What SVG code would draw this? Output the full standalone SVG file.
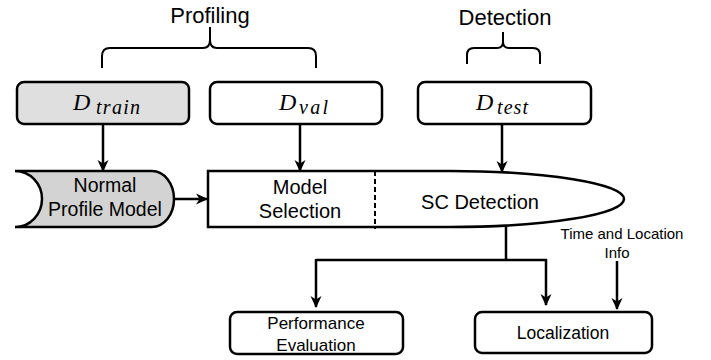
<svg xmlns="http://www.w3.org/2000/svg" width="711" height="360" viewBox="0 0 711 360">
<style>
  .box{fill:#fff;stroke:#000;stroke-width:2.5}
  .sans{font-family:"Liberation Sans",Arial,sans-serif;fill:#000;text-anchor:middle}
  .math{font-family:"Liberation Serif","Times New Roman",serif;font-style:italic;fill:#000}
  .ln{fill:none;stroke:#000;stroke-width:2.5}
  .br{fill:none;stroke:#000;stroke-width:2}
</style>
<defs>
  <marker id="ah" viewBox="0 0 12 12" refX="11" refY="6" markerWidth="12" markerHeight="12" markerUnits="userSpaceOnUse" orient="auto">
    <path d="M0,0.5 L12,6 L0,11.5 L3.5,6 Z" fill="#000"/>
  </marker>
</defs>
<rect width="711" height="360" fill="#fff"/>

<g id="profiling">
  <text class="sans" x="210" y="23" font-size="22">Profiling</text>
  <path class="br" d="M102,68 V56 Q102,48 110,48 H203 Q210,48 210,40 V27 M210,40 Q210,48 217,48 H308 Q316,48 316,56 V68"/>
</g>
<g id="detection">
  <text class="sans" x="505" y="25" font-size="22">Detection</text>
  <path class="br" d="M467,64 V55 Q467,48 474,48 H497 Q503,48 503,42 V32 M503,42 Q503,48 509,48 H533 Q540,48 540,55 V64"/>
</g>

<g id="dtrain">
  <rect class="box" x="17" y="82" width="172" height="42" rx="7" style="fill:#dfdfdf"/>
  <text class="math" x="73" y="110" font-size="24">D</text>
  <text class="math" x="96" y="114" font-size="20" textLength="44" lengthAdjust="spacing">train</text>
</g>
<g id="dval">
  <rect class="box" x="210" y="82" width="172" height="42" rx="7"/>
  <text class="math" x="279" y="110" font-size="24">D</text>
  <text class="math" x="299" y="114" font-size="20" textLength="29" lengthAdjust="spacing">val</text>
</g>
<g id="dtest">
  <rect class="box" x="418" y="82" width="173" height="42" rx="7"/>
  <text class="math" x="476" y="110" font-size="24">D</text>
  <text class="math" x="497" y="114" font-size="20" textLength="31" lengthAdjust="spacing">test</text>
</g>

<g id="normal-profile">
  <path d="M15,171 H152 A22,28 0 0 1 152,227 H15 A27,28 0 0 0 15,171 Z" fill="#d3d3d3" stroke="#000" stroke-width="2.5"/>
  <text class="sans" x="105" y="192" font-size="19.5">Normal</text>
  <text class="sans" x="105" y="216" font-size="19.5">Profile Model</text>
</g>

<g id="selection-detection">
  <path class="box" d="M208,171 H450 A174,28 0 0 1 450,227 H208 Z"/>
  <line x1="375" y1="171" x2="375" y2="229" stroke="#000" stroke-width="2" stroke-dasharray="5,3"/>
  <text class="sans" x="300" y="194" font-size="20">Model</text>
  <text class="sans" x="300" y="218" font-size="20">Selection</text>
  <text class="sans" x="480" y="209" font-size="20">SC Detection</text>
</g>

<g id="perf-eval">
  <rect class="box" x="230" y="312" width="173" height="42" rx="7"/>
  <text class="sans" x="316" y="329" font-size="17">Performance</text>
  <text class="sans" x="316" y="351" font-size="17">Evaluation</text>
</g>
<g id="localization">
  <rect class="box" x="475" y="312" width="177" height="41" rx="7"/>
  <text class="sans" x="563" y="339" font-size="17.5">Localization</text>
</g>

<g id="time-info">
  <text class="sans" x="622" y="239" font-size="15">Time and Location</text>
  <text class="sans" x="617" y="258" font-size="15">Info</text>
</g>

<g id="connectors">
  <line class="ln" x1="103" y1="124" x2="103" y2="171" marker-end="url(#ah)"/>
  <line class="ln" x1="300" y1="124" x2="300" y2="171" marker-end="url(#ah)"/>
  <line class="ln" x1="502" y1="124" x2="502" y2="172" marker-end="url(#ah)"/>
  <line class="ln" x1="174" y1="199" x2="207" y2="199" marker-end="url(#ah)"/>
  <path class="ln" d="M506,227 V260"/>
  <path class="ln" d="M316,260 H546 V305" marker-end="url(#ah)"/>
  <line class="ln" x1="316" y1="259" x2="316" y2="307" marker-end="url(#ah)"/>
  <line class="ln" x1="617" y1="261" x2="617" y2="309" marker-end="url(#ah)"/>
</g>
</svg>
